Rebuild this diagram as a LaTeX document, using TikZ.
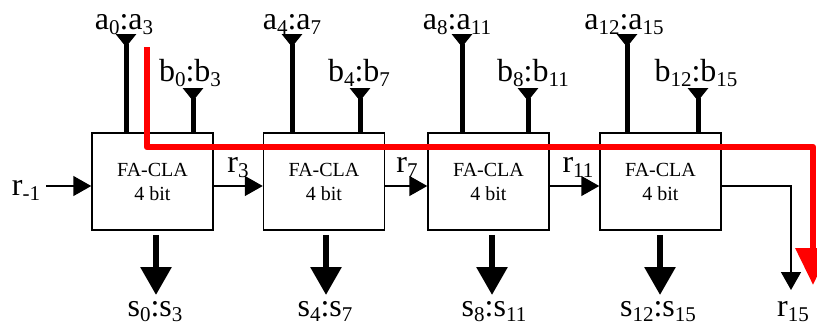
\documentclass[tikz,border=0pt]{standalone}
\usepackage{fontspec}
\setmainfont{Liberation Serif}
\usetikzlibrary{arrows.meta}
\newcommand\sbx[1]{\raisebox{-5.5pt}{\fontsize{21}{22}\selectfont #1}}
\begin{document}
\begin{tikzpicture}[x=1pt,y=-1pt,
  fa/.style={draw, line width=1.5pt, minimum width=121pt, minimum height=97pt,
    inner sep=0pt, align=center, font=\fontsize{20}{24}\selectfont},
  lab/.style={font=\fontsize{32}{34}\selectfont, inner sep=0pt, anchor=base},
  busin/.style={line width=5pt, {Triangle[reversed,length=13pt,width=20pt]}-},
  busout/.style={line width=6pt, shorten <=4pt, -{Triangle[length=28pt,width=30pt]}},
  carry/.style={line width=1.5pt, -{Triangle[length=18pt,width=20pt]}},
  crit/.style={draw=red, line width=6.5pt, line join=round, -{Triangle[length=37pt,width=34pt]}}]
\useasboundingbox (0,0) rectangle (817,325);

% blocks
\node[fa] (f1) at (152.5,181.5) {FA-CLA\\4 bit};
\node[fa] (f2) at (324,181.5) {FA-CLA\\4 bit};
\node[fa] (f3) at (488.5,181.5) {FA-CLA\\4 bit};
\node[fa] (f4) at (660.5,181.5) {FA-CLA\\4 bit};

% operand inputs
\coordinate (a1) at (126,34);  \coordinate (b1) at (193,88);
\coordinate (a2) at (292,34);  \coordinate (b2) at (360,88);
\coordinate (a3) at (462,34);  \coordinate (b3) at (528,88);
\coordinate (a4) at (627,34);  \coordinate (b4) at (698,88);
\draw[busin] (a1) -- (a1 |- f1.north);
\draw[busin] (b1) -- (b1 |- f1.north);
\draw[busin] (a2) -- (a2 |- f2.north);
\draw[busin] (b2) -- (b2 |- f2.north);
\draw[busin] (a3) -- (a3 |- f3.north);
\draw[busin] (b3) -- (b3 |- f3.north);
\draw[busin] (a4) -- (a4 |- f4.north);
\draw[busin] (b4) -- (b4 |- f4.north);
\node[lab] (la1) at (124,29) {a\sbx{0}:a\sbx{3}};
\node[lab] (lb1) at (190,81) {b\sbx{0}:b\sbx{3}};
\node[lab] (la2) at (292,29) {a\sbx{4}:a\sbx{7}};
\node[lab] (lb2) at (359,81) {b\sbx{4}:b\sbx{7}};
\node[lab] (la3) at (457,29) {a\sbx{8}:a\sbx{11}};
\node[lab] (lb3) at (533,81) {b\sbx{8}:b\sbx{11}};
\node[lab] (la4) at (624,29) {a\sbx{12}:a\sbx{15}};
\node[lab] (lb4) at (696,81) {b\sbx{12}:b\sbx{15}};

% sum outputs
\coordinate (s1) at (156,295);
\coordinate (s2) at (326,295);
\coordinate (s3) at (492,295);
\coordinate (s4) at (660,295);
\draw[busout] (f1.south -| s1) -- (s1);
\draw[busout] (f2.south -| s2) -- (s2);
\draw[busout] (f3.south -| s3) -- (s3);
\draw[busout] (f4.south -| s4) -- (s4);
\node[lab] (ls1) at (155,316) {s\sbx{0}:s\sbx{3}};
\node[lab] (ls2) at (325,316) {s\sbx{4}:s\sbx{7}};
\node[lab] (ls3) at (494,316) {s\sbx{8}:s\sbx{11}};
\node[lab] (ls4) at (658,316) {s\sbx{12}:s\sbx{15}};

% carries
\coordinate (cin) at (46,186);
\coordinate (r15) at (791,290);
\draw[carry] (cin) -- (cin -| f1.west);
\draw[carry] (f1.east |- cin) -- (f2.west |- cin);
\draw[carry] (f2.east |- cin) -- (f3.west |- cin);
\draw[carry] (f3.east |- cin) -- (f4.west |- cin);
\draw[carry] (f4.east |- cin) -| (r15);
\node[lab] (lr0) at (26,195) {r\sbx{-1}};
\node[lab] (lr3) at (238,172) {r\sbx{3}};
\node[lab] (lr7) at (407,172) {r\sbx{7}};
\node[lab] (lr11) at (578,172) {r\sbx{11}};
\node[lab] (lr15) at (793,316) {r\sbx{15}};

% critical path
\coordinate (rs) at (147,47);
\coordinate (rt) at (813,147);
\coordinate (re) at (813,285);
\draw[crit] (rs) |- (rt) -- (re);
\end{tikzpicture}
\end{document}
